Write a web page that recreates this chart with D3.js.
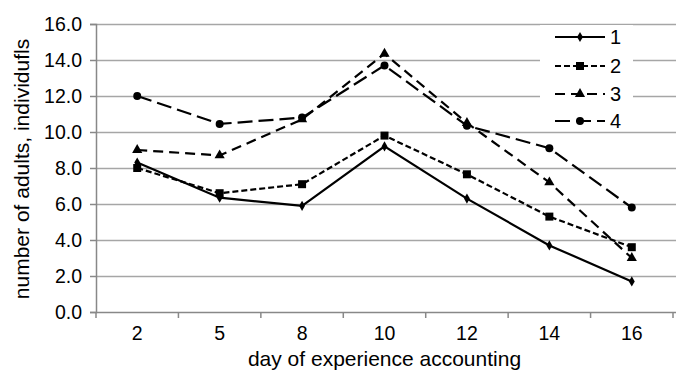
<!DOCTYPE html>
<html>
<head>
<meta charset="utf-8">
<script src="https://cdn.jsdelivr.net/npm/d3@7"></script>
<style>
html,body{margin:0;padding:0;background:#fff;}
svg{display:block;font-family:"Liberation Sans",Arial,sans-serif;}
</style>
</head>
<body>
<svg id="chart" width="676" height="374"></svg>
<script>
const days = ["2","5","8","10","12","14","16"];
const series1 = [8.3, 6.35, 5.9, 9.2, 6.3, 3.7, 1.7];
const series2 = [8.0, 6.6, 7.1, 9.8, 7.65, 5.3, 3.6];
const series3 = [9.0, 8.7, 10.7, 14.35, 10.5, 7.2, 3.0];
const series4 = [12.0, 10.45, 10.8, 13.7, 10.35, 9.1, 5.8];
const seriesNames = ["1","2","3","4"];
const yTicks = [0,2,4,6,8,10,12,14,16];

(function(){
const svg = d3.select("#chart");
const pl = 96, pr = 673, pt = 24, pb = 312;
const x = d3.scaleBand().domain(days).range([pl, pr]).padding(0);
const y = d3.scaleLinear().domain([0,16]).range([pb, pt]);

const gridColor = "#a6a6a6";
svg.append("g").selectAll("line").data(yTicks.filter(d=>d>0)).join("line")
  .attr("x1", pl).attr("x2", 676)
  .attr("y1", d=>Math.round(y(d))+0.5).attr("y2", d=>Math.round(y(d))+0.5)
  .attr("stroke", gridColor).attr("stroke-width", 1.5);

const ya = svg.append("g").attr("transform", `translate(${pl},0)`)
  .call(d3.axisLeft(y).tickValues(yTicks).tickFormat(d3.format(".1f")).tickSize(6).tickPadding(8));
ya.select(".domain").attr("stroke", "#888").attr("stroke-width", 1.5);
ya.selectAll(".tick line").attr("stroke", "#888").attr("stroke-width", 1.5);
ya.selectAll(".tick text").attr("font-size", 19.5).attr("fill", "#000").attr("font-family", "Liberation Sans, Arial, sans-serif");

const xa = svg.append("g").attr("transform", `translate(0,${pb})`)
  .call(d3.axisBottom(x).tickSize(0).tickPadding(14));
xa.select(".domain").remove();
xa.selectAll(".tick text").attr("font-size", 19.5).attr("fill", "#000").attr("font-family", "Liberation Sans, Arial, sans-serif");
svg.append("line").attr("x1", pl).attr("x2", 676).attr("y1", pb+0.5).attr("y2", pb+0.5)
  .attr("stroke", "#888").attr("stroke-width", 1.5);
const bounds = days.map(d=>x(d)).concat([x(days[days.length-1]) + x.bandwidth()]);
svg.append("g").selectAll("line").data(bounds).join("line")
  .attr("x1", d=>d).attr("x2", d=>d).attr("y1", pb).attr("y2", pb+6)
  .attr("stroke", "#888").attr("stroke-width", 1.5);

svg.append("text").attr("x", (pl+pr)/2).attr("y", 366).attr("text-anchor", "middle")
  .attr("font-size", 21).text("day of experience accounting");
svg.append("text").attr("transform", `translate(29,169) rotate(-90)`).attr("text-anchor", "middle")
  .attr("font-size", 21).text("number of adults, individufls");

const cx = d => x(d) + x.bandwidth()/2;
const styles = [
  {data: series1, dash: null, marker: "diamond", size: 30},
  {data: series2, dash: "6,3", marker: "square", size: 64},
  {data: series3, dash: "10,6", marker: "triangle", size: 45},
  {data: series4, dash: "15,6", marker: "circle", size: 50}
];
const symMap = {diamond: d3.symbolDiamond, square: d3.symbolSquare, triangle: d3.symbolTriangle, circle: d3.symbolCircle};
const line = d3.line().x((d,i)=>cx(days[i])).y(d=>y(d));

styles.forEach(s => {
  svg.append("path").attr("d", line(s.data)).attr("fill", "none").attr("stroke", "#000")
    .attr("stroke-width", 2.2).attr("stroke-dasharray", s.dash);
  svg.append("g").selectAll("path").data(s.data).join("path")
    .attr("transform", (d,i)=>`translate(${cx(days[i])},${y(d)})`)
    .attr("d", d3.symbol().type(symMap[s.marker]).size(s.size)).attr("fill", "#000");
});

const lg = svg.append("g");
lg.append("rect").attr("x", 540).attr("y", 25).attr("width", 93).attr("height", 105).attr("fill", "#fff");
const ly = [37, 66, 94, 121];
styles.forEach((s, i) => {
  lg.append("line").attr("x1", 555).attr("x2", 605).attr("y1", ly[i]).attr("y2", ly[i])
    .attr("stroke", "#000").attr("stroke-width", 2.2).attr("stroke-dasharray", s.dash);
  lg.append("path").attr("transform", `translate(580,${ly[i]})`)
    .attr("d", d3.symbol().type(symMap[s.marker]).size(s.size)).attr("fill", "#000");
  lg.append("text").attr("x", 610).attr("y", ly[i]).attr("dy", "0.36em").attr("font-size", 20)
    .text(seriesNames[i]);
});
})();
</script>
</body>
</html>
